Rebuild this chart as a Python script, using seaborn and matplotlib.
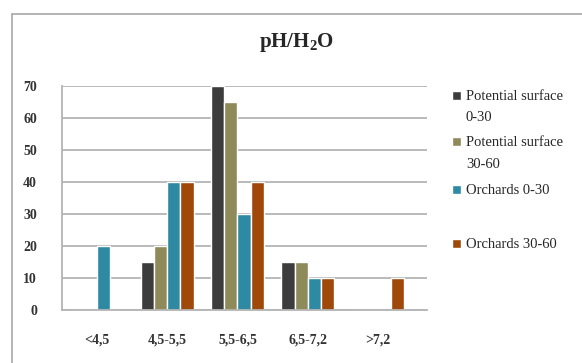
import matplotlib
matplotlib.use("Agg")
import matplotlib.pyplot as plt
from matplotlib.patches import Rectangle
import seaborn as sns
import pandas as pd

# pH classes and share of samples (%) per series
classes = ["<4,5", "4,5-5,5", "5,5-6,5", "6,5-7,2", ">7,2"]
series = ["Potential surface\n0-30", "Potential surface\n30-60", "Orchards 0-30", "Orchards 30-60"]
pot_0_30 = [0, 15, 70, 15, 0]
pot_30_60 = [0, 20, 65, 15, 0]
orch_0_30 = [20, 40, 30, 10, 0]
orch_30_60 = [0, 40, 40, 10, 10]
colors = ["#3c3c3c", "#8f8a5a", "#2e8aa3", "#a0480a"]

rows = []
for name, vals in zip(series, [pot_0_30, pot_30_60, orch_0_30, orch_30_60]):
    for c, v in zip(classes, vals):
        rows.append({"cls": c, "series": name, "value": v})
df = pd.DataFrame(rows)

sns.set_style("white")
plt.rcParams["font.family"] = ["Liberation Serif", "DejaVu Serif"]
plt.rcParams["mathtext.fontset"] = "custom"
plt.rcParams["mathtext.rm"] = "Liberation Serif:bold"
plt.rcParams["mathtext.it"] = "Liberation Serif:bold"
plt.rcParams["mathtext.bf"] = "Liberation Serif:bold"

fig = plt.figure(figsize=(5.82, 3.63), dpi=100)
ax = fig.add_axes([62 / 582, 53 / 363, 365 / 582, 224 / 363])

# outer chart frame
fig.patches.append(Rectangle((12 / 582, -0.1), 1.2, 1 - 14 / 363 + 0.1,
                             transform=fig.transFigure, fill=False,
                             edgecolor="#a8a8a8", lw=1.2))

sns.barplot(data=df, x="cls", y="value", hue="series", palette=colors,
            width=0.75, ax=ax, legend=True, saturation=1)

ax.set_ylim(0, 70)
ax.set_xlim(-0.5, 4.7)
ax.set_yticks(range(0, 71, 10))
ax.yaxis.grid(True, color="#b4b4b4", lw=1.3)
ax.set_axisbelow(True)
ax.set_xlabel("")
ax.set_ylabel("")
for s in ["top", "right"]:
    ax.spines[s].set_visible(False)
for s in ["left", "bottom"]:
    ax.spines[s].set_color("#b4b4b4")
    ax.spines[s].set_linewidth(1.3)
ax.tick_params(axis="y", length=0, pad=18, labelsize=10)
ax.tick_params(axis="x", length=0, pad=17, labelsize=10)
for lbl in ax.get_yticklabels() + ax.get_xticklabels():
    lbl.set_fontweight("bold")
    lbl.set_color("#333333")

fig.text(297 / 582, 1 - 43 / 363, "pH/H$_2$O", ha="center", va="center",
         fontsize=15, fontweight="bold")

# legend entries placed one by one, marker next to the first text line
handles, labels = ax.get_legend_handles_labels()
ax.legend_.remove()
legend_y = [97, 143, 191, 245]
for h, lab, y in zip(handles, labels, legend_y):
    first, *rest = lab.split("\n")
    leg = fig.legend([h], [first], loc="center left",
                     bbox_to_anchor=(452 / 582, 1 - y / 363),
                     frameon=False, fontsize=10.5, handlelength=0.6, handleheight=0.6,
                     handletextpad=0.35, borderpad=0, borderaxespad=0)
    for extra in rest:
        fig.text(466 / 582, 1 - (y + 21) / 363, extra, fontsize=10.5,
                 ha="left", va="center")

fig.savefig("out.png", dpi=100)
